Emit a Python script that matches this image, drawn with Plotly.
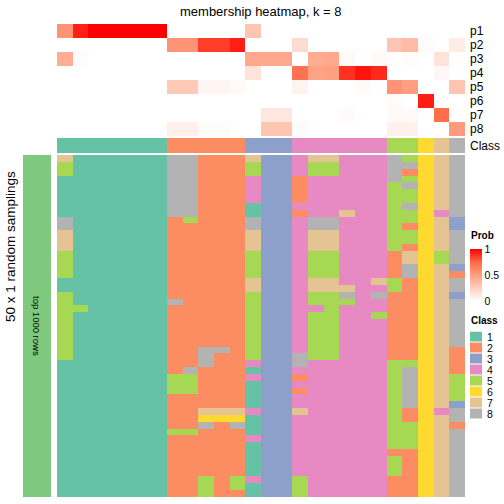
import plotly.graph_objects as go

W, H = 504, 504

# ---------------- data ----------------
class_names = ["1", "2", "3", "4", "5", "6", "7", "8"]
class_colors = ["#66C2A5", "#FC8D62", "#8DA0CB", "#E78AC3",
                "#A6D854", "#FFD92F", "#E5C494", "#B3B3B3"]

# consensus class of each of the 26 samples (columns)
sample_class = [1, 1, 1, 1, 1, 1, 1,
                2, 2, 2, 2, 2,
                3, 3, 3,
                4, 4, 4, 4, 4, 4,
                5, 5,
                6, 7, 8]

prob_names = ["p1", "p2", "p3", "p4", "p5", "p6", "p7", "p8"]
p1 = [0.55, 0.92, 1, 1, 1, 1, 1, 0, 0, 0, 0, 0, 0.30, 0, 0, 0, 0, 0, 0, 0, 0, 0, 0, 0, 0, 0]
p2 = [0, 0, 0, 0, 0, 0, 0, 0.55, 0.55, 0.85, 0.85, 0.93, 0, 0, 0, 0.18, 0, 0, 0, 0, 0, 0.30, 0.35, 0.02, 0, 0.10]
p3 = [0.42, 0.02, 0, 0, 0, 0, 0, 0, 0, 0, 0, 0, 0.45, 0.45, 0.45, 0, 0.43, 0.45, 0.03, 0, 0.03, 0, 0.02, 0, 0.15, 0]
p4 = [0, 0, 0, 0, 0, 0, 0, 0, 0, 0, 0, 0, 0.15, 0, 0, 0.70, 0.48, 0.50, 0.88, 0.95, 0.90, 0, 0, 0, 0.04, 0]
p5 = [0, 0, 0, 0, 0, 0, 0, 0.28, 0.28, 0.05, 0.05, 0.03, 0, 0, 0, 0.06, 0, 0, 0, 0.02, 0, 0.55, 0.50, 0, 0, 0.30]
p6 = [0, 0, 0, 0, 0, 0, 0, 0, 0, 0, 0, 0, 0, 0, 0, 0, 0, 0, 0, 0, 0, 0.02, 0, 0.93, 0, 0]
p7 = [0, 0, 0, 0, 0, 0, 0, 0, 0, 0, 0, 0, 0, 0.13, 0.13, 0, 0, 0, 0.02, 0, 0, 0.03, 0.03, 0, 0.72, 0]
p8 = [0, 0, 0, 0, 0, 0, 0, 0.08, 0.08, 0.02, 0.02, 0, 0, 0.30, 0.30, 0.02, 0, 0, 0, 0, 0, 0.08, 0.08, 0, 0, 0.52]

# class of each sample (column) in each of the 50 random samplings (rows 0..49)
samplings = [
    "7551111118" "8777555511" "5555555555" "1111111111" "1111111111",  # 0
    "1111111111" "1111111111" "1151111111" "1111111111" "1111111111",  # 1
    "1111111111" "1111111111" "1111111111" "1111111111" "1111111111",  # 2
    "1111111111" "1111111111" "1111111111" "1111111111" "1111111111",  # 3
    "1111111111" "1111111111" "1111111111" "1111111111" "1111111111",  # 4
    "1111111111" "1111111111" "1111111111" "1111111111" "1111111111",  # 5
    "1111111111" "1111111111" "1111111111" "1111111111" "1111111111",  # 6
    "8888888882" "2222222222" "2822222222" "2255522222" "5222222222",  # 7
    "8888888885" "2222222222" "2222222222" "2855522222" "5222222222",  # 8
    "2222222222" "2222222222" "2222222288" "8222222768" "2222222555",  # 9
    "2222222222" "2222222222" "2222222282" "2222222762" "2222222222",  # 10
    "2222222222" "2222222222" "2222222222" "2222222768" "2222222552",  # 11
    "7554444118" "8777555577" "5555555555" "4141111411" "1411111411",  # 12
    "3333333333" "3333333333" "3333333333" "3333333333" "3333333333",  # 13
    "3333333333" "3333333333" "3333333333" "3333333333" "3333333333",  # 14
    "4442222424" "4444444444" "4444444448" "8424244744" "4444444555",  # 15
    "7554444448" "8777555577" "5545555555" "4444444444" "4444444444",  # 16
    "7554444448" "8777555577" "5555555555" "4444444444" "4444444444",  # 17
    "4444444474" "4444444447" "8544444444" "4444444444" "4444444444",  # 18
    "4444444444" "4444444444" "4444444444" "4444444444" "4444444444",  # 19
    "4444444444" "4444444474" "8445444444" "4444444444" "4444444444",  # 20
    "8888555555" "5555222255" "2222222222" "5555555555" "5552555222",  # 21
    "5825855855" "2552778822" "2222222222" "5888888225" "5552222222",  # 22
    "6666666666" "6666666666" "6666666666" "6666666666" "6666666666",  # 23
    "7777777747" "7777557777" "7777777777" "7777777477" "7777777777",  # 24
    "8888888883" "3888883288" "3888888822" "2255553882" "8888888888",  # 25
]

bar_label = "top 1000 rows"
row_title = "50 x 1 random samplings"
title = "membership heatmap, k = 8"

# ---------------- derived matrices ----------------
n_cols = len(sample_class)
n_rows = len(samplings[0])
assert all(len(s) == n_rows for s in samplings)
main_z = [[int(samplings[c][r]) for c in range(n_cols)] for r in range(n_rows)]
prob_z = [p1, p2, p3, p4, p5, p6, p7, p8]
cols_idx = list(range(n_cols))


def discrete_scale(colors):
    n = len(colors)
    sc = []
    for i, c in enumerate(colors):
        sc.append([i / n, c])
        sc.append([(i + 1) / n, c])
    return sc


class_scale = discrete_scale(class_colors)
prob_scale = [[0, "#FFFFFF"], [0.25, "rgb(255,207,191)"], [0.5, "rgb(255,158,129)"],
              [0.75, "rgb(255,104,70)"], [1, "#FF0000"]]


def dx(a, b):
    return [a / W, b / W]


def dy(top, bottom):
    return [1 - bottom / H, 1 - top / H]


FONT = "Liberation Sans, Arial, sans-serif"

fig = go.Figure()

# main heatmap
fig.add_trace(go.Heatmap(z=main_z, x=cols_idx, y=list(range(n_rows)),
                         colorscale=class_scale, zmin=0.5, zmax=8.5,
                         showscale=False, xaxis="x", yaxis="y", hoverinfo="z"))
# class annotation row
fig.add_trace(go.Heatmap(z=[sample_class], x=cols_idx, y=[0],
                         colorscale=class_scale, zmin=0.5, zmax=8.5,
                         showscale=False, xaxis="x2", yaxis="y2"))
# probability rows
fig.add_trace(go.Heatmap(z=prob_z, x=cols_idx, y=list(range(len(prob_names))),
                         colorscale=prob_scale, zmin=0, zmax=1,
                         showscale=True, xaxis="x3", yaxis="y3",
                         colorbar=dict(x=470 / W, xanchor="left", y=1 - 275 / H, yanchor="middle",
                                       len=52, lenmode="pixels", thickness=12,
                                       outlinewidth=0, xpad=0, ypad=0,
                                       tickvals=[0, 0.5, 1], ticktext=["0", "0.5", "1"],
                                       ticks="", tickfont=dict(size=10.5, family=FONT, color="#000"))))
# left bar
fig.add_trace(go.Heatmap(z=[[1]], x=[0], y=[0],
                         colorscale=[[0, "#7FC97F"], [1, "#7FC97F"]],
                         showscale=False, xaxis="x4", yaxis="y4"))
# class legend keys
fig.add_trace(go.Heatmap(z=[[i + 1] for i in range(8)], x=[0], y=list(range(8)),
                         colorscale=class_scale, zmin=0.5, zmax=8.5, ygap=1,
                         showscale=False, xaxis="x5", yaxis="y5"))

ax = dict(showticklabels=False, showgrid=False, zeroline=False, ticks="",
          showline=False, fixedrange=True)

fig.update_layout(
    width=W, height=H, margin=dict(l=0, r=0, t=0, b=0),
    paper_bgcolor="white", plot_bgcolor="white",
    font=dict(family=FONT, color="#000"),
    xaxis=dict(ax, domain=dx(57, 465), range=[-0.5, n_cols - 0.5]),
    yaxis=dict(ax, domain=dy(155, 497), range=[n_rows - 0.5, -0.5]),
    xaxis2=dict(ax, domain=dx(57, 465), range=[-0.5, n_cols - 0.5]),
    yaxis2=dict(ax, domain=dy(138, 153), range=[0.5, -0.5]),
    xaxis3=dict(ax, domain=dx(57, 465), range=[-0.5, n_cols - 0.5]),
    yaxis3=dict(ax, domain=dy(24, 136), range=[len(prob_names) - 0.5, -0.5]),
    xaxis4=dict(ax, domain=dx(23, 51), range=[-0.5, 0.5]),
    yaxis4=dict(ax, domain=dy(155, 497), range=[-0.5, 0.5]),
    xaxis5=dict(ax, domain=dx(470, 482), range=[-0.5, 0.5]),
    yaxis5=dict(ax, domain=dy(331.5, 419.5), range=[7.5, -0.5]),
)

ann = []
ann.append(dict(text=title, x=261 / W, y=1 - 11 / H, xref="paper", yref="paper",
                showarrow=False, font=dict(size=13), xanchor="center", yanchor="middle"))
for i, nm in enumerate(prob_names):
    ann.append(dict(text=nm, x=468 / W, y=1 - (31 + 14 * i) / H, xref="paper", yref="paper",
                    showarrow=False, font=dict(size=12), xanchor="left", yanchor="middle"))
ann.append(dict(text="Class", x=468 / W, y=1 - 146 / H, xref="paper", yref="paper",
                showarrow=False, font=dict(size=12), xanchor="left", yanchor="middle"))
ann.append(dict(text=bar_label, x=37 / W, y=1 - 326 / H, xref="paper", yref="paper",
                showarrow=False, font=dict(size=9.5), textangle=90,
                xanchor="center", yanchor="middle"))
ann.append(dict(text=row_title, x=10 / W, y=1 - 247 / H, xref="paper", yref="paper",
                showarrow=False, font=dict(size=13.5), textangle=-90,
                xanchor="center", yanchor="middle"))
ann.append(dict(text="<b>Prob</b>", x=469 / W, y=1 - 235 / H, xref="paper", yref="paper",
                showarrow=False, font=dict(size=10), xanchor="left", yanchor="middle"))
ann.append(dict(text="<b>Class</b>", x=469 / W, y=1 - 320 / H, xref="paper", yref="paper",
                showarrow=False, font=dict(size=10), xanchor="left", yanchor="middle"))
for i, nm in enumerate(class_names):
    ann.append(dict(text=nm, x=485 / W, y=1 - (337 + 11 * i) / H, xref="paper", yref="paper",
                    showarrow=False, font=dict(size=10.5), xanchor="left", yanchor="middle"))
fig.update_layout(annotations=ann)

fig.write_html("out.html", config={"displayModeBar": False},
               post_script="document.body.style.margin='0';document.body.style.overflow='hidden';")
